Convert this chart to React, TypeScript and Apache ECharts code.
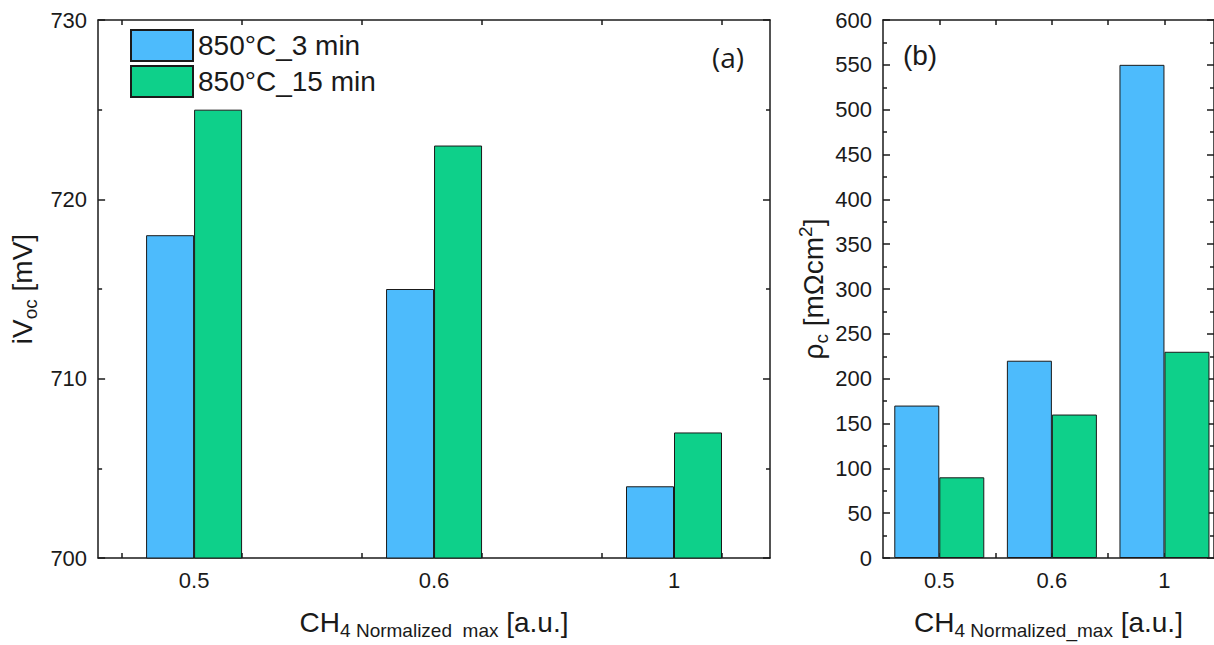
import React, { useEffect, useRef } from "react";
import * as echarts from "echarts";

// ---- data ----
const categories = ["0.5", "0.6", "1"];
const categoryPositions = [1, 2, 3];
const seriesNames = ["850°C_3 min", "850°C_15 min"];
const ivoc3min = [718, 715, 704];
const ivoc15min = [725, 723, 707];
const rho3min = [170, 220, 550];
const rho15min = [90, 160, 230];
const leftXTicks = [0.7, 1.2, 1.7, 2.2, 2.7, 3.2];
const rightXTicks = [1, 1.5, 2, 2.5, 3];

const BLUE = "#4DBBFC";
const GREEN = "#0ED08A";
const INK = "#1a1a1a";
const FONT = "'Liberation Sans', Arial, sans-serif";

const pair = (vals: number[]) => vals.map((v, i) => [categoryPositions[i], v]);

const rich = {
  m: { fontSize: 28, fontFamily: FONT, color: INK },
  s: { fontSize: 19, fontFamily: FONT, color: INK, padding: [16, 0, 0, 0], verticalAlign: "bottom" },
  p: { fontSize: 19, fontFamily: FONT, color: INK, padding: [0, 0, 14, 0], verticalAlign: "top" },
};

function xAxis(gridIndex: number, pos: "bottom" | "top", min: number, max: number, ticks: number[], name: string) {
  const bottom = pos === "bottom";
  return {
    type: "value",
    gridIndex,
    position: pos,
    min,
    max,
    splitLine: { show: false },
    axisLine: { show: true, onZero: false, lineStyle: { color: INK, width: 1.5 } },
    axisTick: { show: true, inside: true, length: 5, customValues: ticks, lineStyle: { color: INK, width: 1.5 } },
    axisLabel: {
      show: bottom,
      customValues: categoryPositions,
      formatter: (v: number) => categories[categoryPositions.indexOf(Math.round(v))] ?? "",
      fontSize: 22,
      fontFamily: FONT,
      color: INK,
      margin: 11,
    },
    name: bottom ? name : "",
    nameLocation: "middle",
    nameGap: 47,
    nameTextStyle: { rich },
  };
}

function yAxis(gridIndex: number, pos: "left" | "right", min: number, max: number, interval: number, name: string, gap: number) {
  const left = pos === "left";
  return {
    type: "value",
    gridIndex,
    position: pos,
    min,
    max,
    interval,
    splitLine: { show: false },
    axisLine: { show: true, onZero: false, lineStyle: { color: INK, width: 1.5 } },
    axisTick: { show: true, inside: true, length: 7, lineStyle: { color: INK, width: 1.5 } },
    minorTick: { show: true, splitNumber: 2, length: 4, lineStyle: { color: INK, width: 1.5 } },
    axisLabel: { show: left, fontSize: 22, fontFamily: FONT, color: INK, margin: 11 },
    name: left ? name : "",
    nameLocation: "middle",
    nameGap: gap,
    nameTextStyle: { rich },
  };
}

export default function App() {
  const ref = useRef<HTMLDivElement>(null);
  useEffect(() => {
    document.body.style.overflow = "hidden";
    const chart = echarts.init(ref.current!, undefined, { renderer: "svg" });
    const barStyle = (c: string) => ({ color: c, borderColor: INK, borderWidth: 1 });
    chart.setOption({
      animation: false,
      backgroundColor: "#ffffff",
      textStyle: { fontFamily: FONT },
      grid: [
        { left: 98, top: 20, width: 672, height: 543 },
        { left: 883, top: 20, width: 333, height: 543 },
      ],
      xAxis: [
        xAxis(0, "bottom", 0.6, 3.4, leftXTicks, "{m|CH}{s|4 Normalized  max}{m| [a.u.]}"),
        xAxis(0, "top", 0.6, 3.4, leftXTicks, ""),
        xAxis(1, "bottom", 0.5, 3.44, rightXTicks, "{m|CH}{s|4 Normalized_max}{m| [a.u.]}"),
        xAxis(1, "top", 0.5, 3.44, rightXTicks, ""),
      ],
      yAxis: [
        yAxis(0, "left", 700, 730, 10, "{m|iV}{s|oc}{m| [mV]}", 57),
        yAxis(0, "right", 700, 730, 10, "", 0),
        yAxis(1, "left", 0, 600, 50, "{m|ρ}{s|c}{m| [mΩcm}{p|2}{m|]}", 52),
        yAxis(1, "right", 0, 600, 50, "", 0),
      ],
      legend: {
        left: 130,
        top: 29,
        padding: 0,
        orient: "vertical",
        itemWidth: 62,
        itemHeight: 31,
        itemGap: 3,
        icon: "rect",
        data: seriesNames,
        textStyle: { fontSize: 28, fontFamily: FONT, color: INK },
      },
      graphic: [
        { type: "text", x: 728, y: 57, style: { text: "(a)", fontSize: 28, fontFamily: "'Open Sans', sans-serif", fill: INK, align: "center", verticalAlign: "middle" } },
        { type: "text", x: 920, y: 55, style: { text: "(b)", fontSize: 28, fontFamily: FONT, fill: INK, align: "center", verticalAlign: "middle" } },
      ],
      series: [
        { type: "bar", name: seriesNames[0], xAxisIndex: 0, yAxisIndex: 0, data: pair(ivoc3min), barWidth: 48, barGap: "0%", itemStyle: barStyle(BLUE) },
        { type: "bar", name: seriesNames[1], xAxisIndex: 0, yAxisIndex: 0, data: pair(ivoc15min), barWidth: 48, barGap: "0%", itemStyle: barStyle(GREEN) },
        { type: "bar", name: seriesNames[0], xAxisIndex: 2, yAxisIndex: 2, data: pair(rho3min), barWidth: 45, barGap: "0%", itemStyle: barStyle(BLUE) },
        { type: "bar", name: seriesNames[1], xAxisIndex: 2, yAxisIndex: 2, data: pair(rho15min), barWidth: 45, barGap: "0%", itemStyle: barStyle(GREEN) },
      ],
    });
    return () => chart.dispose();
  }, []);
  return <div ref={ref} style={{ position: "fixed", left: 0, top: 0, width: 1214, height: 645, background: "#fff" }} />;
}
